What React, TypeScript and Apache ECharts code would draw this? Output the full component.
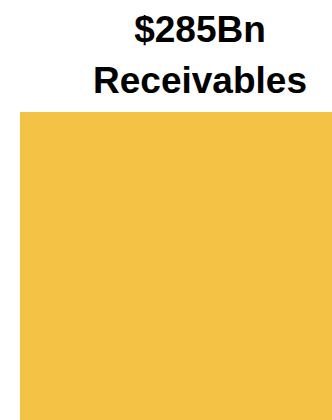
import React, { useEffect, useRef } from "react";
import * as echarts from "echarts";

const categories: string[] = ["Receivables"];
const values: number[] = [285];
const titleLines: string[] = ["$285Bn", "Receivables"];

export default function App() {
  const ref = useRef<HTMLDivElement>(null);
  useEffect(() => {
    if (!ref.current) return;
    const chart = echarts.init(ref.current, undefined, { renderer: "svg" });
    chart.setOption({
      animation: false,
      title: {
        text: titleLines.join("\n"),
        left: 200,
        top: 4,
        textAlign: "center",
        padding: 0,
        textStyle: {
          fontFamily: "Liberation Sans, Arial, sans-serif",
          fontWeight: "bold",
          fontSize: 37,
          lineHeight: 51,
          color: "#000000",
        },
      },
      grid: { left: 20, right: 0, top: 112, bottom: 0, containLabel: false },
      xAxis: {
        type: "category",
        data: categories,
        show: false,
      },
      yAxis: {
        type: "value",
        min: 0,
        max: 285,
        show: false,
      },
      series: [
        {
          type: "bar",
          data: values,
          barWidth: "100%",
          itemStyle: { color: "#F4C245" },
          silent: true,
        },
      ],
    });
    return () => chart.dispose();
  }, []);
  return (
    <div
      ref={ref}
      style={{ position: "fixed", left: 0, top: 0, width: 332, height: 420, background: "#ffffff" }}
    />
  );
}
